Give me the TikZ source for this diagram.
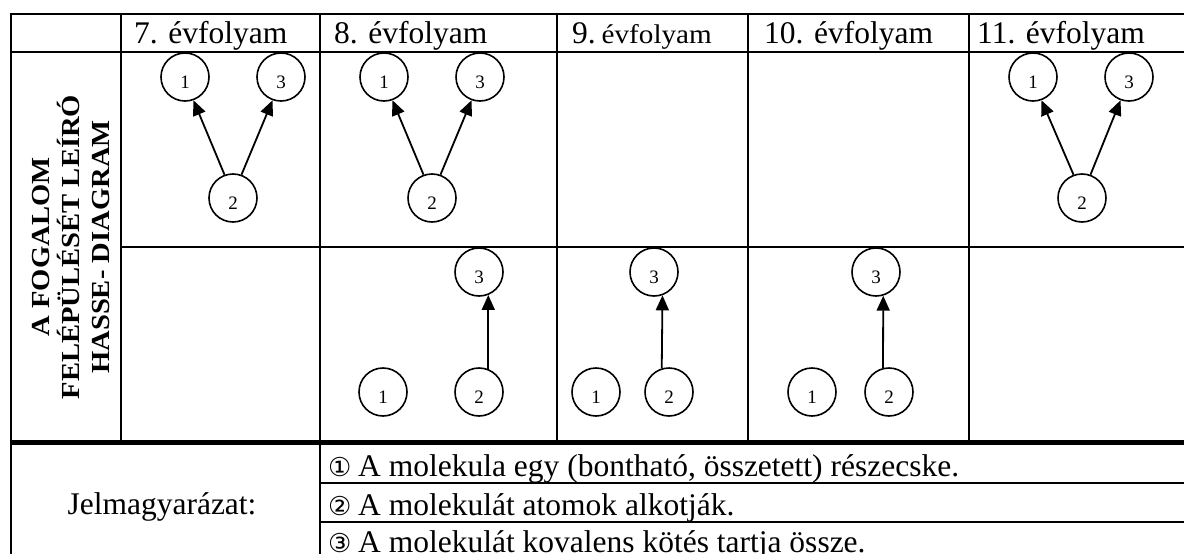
\documentclass[tikz,border=0pt]{standalone}
\usepackage{fontspec}
\usepackage{graphicx}
\setmainfont{Liberation Serif}
\newfontfamily\symfont{DejaVu Sans}
\usetikzlibrary{arrows.meta}
\newcommand{\circnum}[1]{\makebox[30pt][l]{\symfont\fontsize{26}{28}\selectfont #1}}
\begin{document}
\begin{tikzpicture}[x=1pt,y=-1pt,
  grid/.style={line width=2pt},
  heavyrule/.style={line width=5pt},
  lightrule/.style={line width=1.4pt},
  hdr/.style={anchor=base west, inner sep=0pt, font=\fontsize{31.5}{36}\selectfont},
  concept/.style={circle, draw, line width=1.6pt, minimum size=48pt, inner sep=0pt,
    font=\fontsize{19}{22}\selectfont, text height=22pt, text depth=0pt},
  arr/.style={line width=1.8pt, -{Triangle[length=15pt,width=13pt]}},
  legendtext/.style={anchor=base west, inner sep=0pt, font=\fontsize{31.5}{34}\selectfont},
]
\useasboundingbox (0,0) rectangle (1184,554);
\fill[white] (0,0) rectangle (1184,554);

% grid
\draw[grid] (11,14) -- (1184,14);
\draw[grid] (11,52) -- (1184,52);
\draw[grid] (121,247) -- (1184,247);
\draw[heavyrule] (11,442.5) -- (1184,442.5);
\draw[lightrule] (320,483) -- (1184,483);
\draw[lightrule] (320,522) -- (1184,522);
\draw[grid] (11,13) -- (11,554);
\draw[grid] (121,13) -- (121,442);
\draw[grid] (320,13) -- (320,554);
\draw[grid] (557,13) -- (557,442);
\draw[grid] (748,13) -- (748,442);
\draw[grid] (969,13) -- (969,442);

% headers
\node[hdr] (h7) at (134,43) {7. évfolyam};
\node[hdr] (h8) at (334,43) {8. évfolyam};
\node[hdr] (h9) at (572,43) {9.\kern-2pt\ {\fontsize{27}{30}\selectfont\scalebox{1.08}[1]{évfolyam}}};
\node[hdr] (h10) at (764,43) {10. évfolyam};
\node[hdr] (h11) at (977,43) {11. évfolyam};

% side label
\node[rotate=90, align=center, inner sep=0pt, font=\bfseries\fontsize{26}{30}\selectfont] (side) at (71.5,247)
  {\scalebox{1.1}[1]{A FOGALOM}\\\scalebox{1.1}[1]{FELÉPÜLÉSÉT LEÍRÓ}\\\scalebox{1.1}[1]{HASSE- DIAGRAM}};

% row 1
\node[concept] (a1) at (185,77) {1};
\node[concept] (a3) at (281,77) {3};
\node[concept] (a2) at (233,198) {2};
\draw[arr] (a2.110) -- (a1.-70);
\draw[arr] (a2.70) -- (a3.-110);

\node[concept] (b1) at (384,77) {1};
\node[concept] (b3) at (480,77) {3};
\node[concept] (b2) at (432,198) {2};
\draw[arr] (b2.110) -- (b1.-70);
\draw[arr] (b2.70) -- (b3.-110);

\node[concept] (e1) at (1033,77) {1};
\node[concept] (e3) at (1129,77) {3};
\node[concept] (e2) at (1082,198) {2};
\draw[arr] (e2.110) -- (e1.-70);
\draw[arr] (e2.70) -- (e3.-110);

% row 2
\node[concept] (f1) at (383,392) {1};
\node[concept] (f2) at (479,392) {2};
\node[concept] (f3) at (479,272) {3};
\draw[arr] (f2.68) -- (f3.-68);

\node[concept] (g1) at (596,392) {1};
\node[concept] (g2) at (669,392) {2};
\node[concept] (g3) at (654,272) {3};
\draw[arr] (g2.107) -- (g3.-70);

\node[concept] (k1) at (812,392) {1};
\node[concept] (k2) at (889,392) {2};
\node[concept] (k3) at (876,272) {3};
\draw[arr] (k2.104.5) -- (k3.-73);

% legend
\node[anchor=base, inner sep=0pt, font=\fontsize{31.5}{34}\selectfont] (lg) at (162,514) {Jelmagyarázat:};
\node[legendtext] (l1) at (328,476) {\circnum{①}A molekula egy (bontható, összetett) részecske.};
\node[legendtext] (l2) at (328,515) {\circnum{②}A molekulát atomok alkotják.};
\node[legendtext] (l3) at (328,552) {\circnum{③}A molekulát kovalens kötés tartja össze.};
\end{tikzpicture}
\end{document}
